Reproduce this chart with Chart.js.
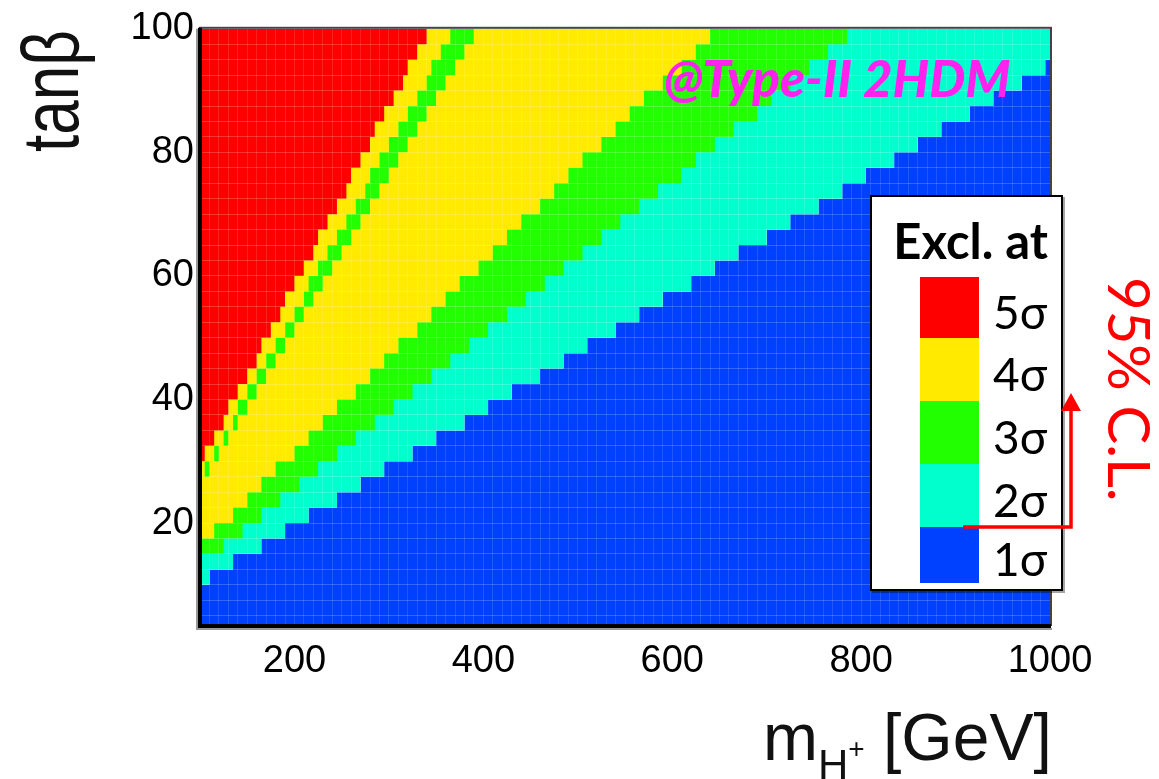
<!DOCTYPE html>
<html>
<head>
<meta charset="utf-8">
<script src="https://cdn.jsdelivr.net/npm/chart.js@4.4.1/dist/chart.umd.min.js"></script>
<style>
body { margin: 0; background: #fff; overflow: hidden; }
#wrap { position: relative; width: 1159px; height: 779px; overflow: hidden; }
#canvas { position: absolute; left: 0; top: 0; }
.txt { position: absolute; white-space: nowrap; line-height: 1; }
#legend { position: absolute; left: 870px; top: 195px; width: 193px; height: 396px; box-sizing: border-box;
  border: 2px solid #000; background: #fff; box-shadow: 2px 2px 0 rgba(0,0,0,0.35); }
</style>
</head>
<body>
<div id="wrap">
  <canvas id="canvas" width="1159" height="779"></canvas>
  <div class="txt" style="left:4px; top:152px; font:62px 'Liberation Sans'; color:#111; transform:rotate(-90deg) scaleY(1.3); transform-origin:0 0;">tanβ</div>
  <div class="txt" style="left:763px; top:699px; font:66px 'Liberation Sans'; color:#111;">m<span style="font-size:42px; position:relative; top:19px;">H</span><span style="font-size:28px; position:relative; top:-2px;">+</span> [GeV]</div>
  <div class="txt" style="left:664px; top:47px; font:italic 900 51px Lato, 'Open Sans', sans-serif; color:#ff22ee;">@Type-II 2HDM</div>
  <div id="legend"></div>
  <div class="txt" style="left:1165px; top:277px; font:58px Lato, 'Noto Sans', sans-serif; color:#ff0000; transform:rotate(90deg); transform-origin:0 0;">95% C.L.</div>
  <svg width="1159" height="779" style="position:absolute; left:0; top:0; pointer-events:none;">
    <polyline points="963,527 1071,527 1071,410" fill="none" stroke="#ff0000" stroke-width="3.5"/>
    <polygon points="1061,411 1081,411 1071,393" fill="#ff0000"/>
  </svg>
</div>
<script>
// tanb rows of the scan (top edge of each row), mass ticks, tanb ticks
const tanbRows = [100, 97.5, 95, 92.5, 90, 87.5, 85, 82.5, 80, 77.5, 75, 72.5, 70, 67.5, 65, 62.5,
  60, 57.5, 55, 52.5, 50, 47.5, 45, 42.5, 40, 37.5, 35, 32.5, 30, 27.5, 25, 22.5, 20, 17.5, 15,
  12.5, 10, 7.5, 5];
const massTicks = [200, 400, 600, 800, 1000];
const tanbTicks = [20, 40, 60, 80, 100];

// mass (GeV) where each row switches to the lower significance, row 0 = top
const edge12 = [null, null, 995, 970, 940, 915, 885, 860, 835, 805, 780, 755, 725, 700, 670, 645,
  620, 590, 565, 540, 510, 485, 460, 430, 405, 380, 350, 325, 295, 270, 245, 215, 190, 165, 135, 110];
const edge23 = [785, 765, 745, 725, 705, 690, 665, 645, 625, 610, 585, 565, 545, 525, 505, 485,
  465, 445, 425, 405, 385, 365, 345, 325, 305, 285, 265, 245, 225, 205, 185, 165, 145, 125];
const edge34 = [640, 625, 610, 590, 570, 555, 540, 525, 505, 490, 475, 460, 440, 425, 410, 395,
  375, 360, 345, 330, 310, 295, 280, 265, 245, 230, 215, 200, 180, 165, 150, 135, 115];
// the thin 3 sigma strip inside the 4 sigma band
const stripStart = [365, 355, 345, 340, 330, 320, 310, 300, 290, 280, 275, 265, 255, 245, 235, 225,
  215, 210, 200, 190, 180, 170, 160, 150, 140, 135, 125, 115, 105];
const stripEnd = [390, 380, 370, 360, 350, 340, 330, 320, 310, 300, 290, 280, 270, 260, 250, 240,
  230, 220, 210, 200, 190, 180, 170, 160, 150, 140, 130, 120, 110];
const edge45 = [340, 330, 320, 315, 305, 295, 285, 280, 270, 260, 255, 245, 235, 225, 220, 210,
  200, 190, 185, 175, 165, 160, 150, 140, 130, 125, 115, 105];

const sigmaLabels = ['5σ', '4σ', '3σ', '2σ', '1σ'];
const sigmaColors = ['#ff0000', '#ffea00', '#22ff00', '#00ffcc', '#0040ff'];

// turn row edges into a stepped boundary line
function stepPoints(edges) {
  let pts = [{ x: 100, y: tanbRows[edges.length] }];
  for (let k = edges.length - 1; k >= 0; k--) {
    if (edges[k] === null) continue;
    pts.push({ x: edges[k], y: tanbRows[k] });
  }
  pts.push({ x: 1000, y: pts[pts.length - 1].y });
  return pts;
}

function area(label, edges, color, fill, order) {
  return {
    label: label, data: stepPoints(edges), stepped: true, fill: fill, order: order,
    backgroundColor: color, borderColor: 'rgba(0,0,0,0)', borderWidth: 0, pointRadius: 0,
    xAxisID: 'x', yAxisID: 'y'
  };
}

let datasets = [
  area('5σ', edge45, sigmaColors[0], 'end', 0),
  area('4σ strip', stripStart, sigmaColors[1], 'end', 1),
  area('3σ strip', stripEnd, sigmaColors[2], 'end', 2),
  area('4σ', edge34, sigmaColors[1], 'end', 3),
  area('3σ', edge23, sigmaColors[2], 'end', 4),
  area('2σ', edge12, sigmaColors[3], 'end', 5),
  area('1σ', edge12, sigmaColors[4], 'start', 6)
];

// legend box
let legend = document.getElementById('legend');
let html = '<div class="txt" style="right:13px; top:14px; font:bold 49px Lato, sans-serif; color:#000;">Excl. at</div>';
let tops = [80, 141, 204, 267, 330];
let heights = [61, 63, 63, 63, 56];
for (let i = 0; i < sigmaLabels.length; i++) {
  html += '<div style="position:absolute; left:48px; top:' + tops[i] + 'px; width:59px; height:' + heights[i] +
    'px; background:' + sigmaColors[i] + ';"></div>';
  html += '<div class="txt" style="left:121px; top:' + (tops[i] + heights[i] / 2 - 24) +
    'px; font:46px Lato, \'Noto Sans\', sans-serif; color:#000;">' + sigmaLabels[i] + '</div>';
}
legend.innerHTML = html;

const frame = {
  id: 'frame',
  afterDraw(chart) {
    const c = chart.ctx;
    const a = chart.chartArea;
    c.save();
    c.strokeStyle = '#444';
    c.lineWidth = 2;
    c.strokeRect(a.left, a.top - 1, a.right - a.left + 1, a.bottom - a.top + 1);
    c.strokeStyle = '#999';
    c.lineWidth = 2;
    c.beginPath();
    c.moveTo(a.left - 3, a.top);
    c.lineTo(a.left - 3, a.bottom + 4);
    c.lineTo(a.right + 2, a.bottom + 4);
    c.stroke();
    c.strokeStyle = '#000';
    c.lineWidth = 4;
    c.beginPath();
    c.moveTo(a.left, a.top - 1);
    c.lineTo(a.left, a.bottom + 1);
    c.lineTo(a.right + 1, a.bottom + 1);
    c.stroke();
    c.restore();
  }
};

const tickFont = { family: 'Liberation Sans', size: 38 };

var ctx = document.getElementById('canvas').getContext('2d');
var myChart = new Chart(ctx, {
  type: 'line',
  data: { datasets: datasets },
  options: {
    responsive: false,
    animation: false,
    devicePixelRatio: 1,
    layout: { padding: { top: 25, right: 109, left: 0, bottom: 0 } },
    plugins: { legend: { display: false }, tooltip: { enabled: false } },
    scales: {
      x: {
        type: 'linear', position: 'bottom', min: 100, max: 1000,
        grid: { display: false, drawTicks: false }, border: { display: false },
        ticks: { font: tickFont, color: '#000', padding: 14, maxRotation: 0, callback: v => String(v) },
        afterBuildTicks: s => { s.ticks = massTicks.map(v => ({ value: v })); },
        afterFit: s => { s.height = 154; }
      },
      y: {
        type: 'linear', position: 'left', min: 3.5, max: 100,
        grid: { display: false, drawTicks: false }, border: { display: false },
        ticks: { font: tickFont, color: '#000', padding: 6, callback: v => String(v) },
        afterBuildTicks: s => { s.ticks = tanbTicks.map(v => ({ value: v })); },
        afterFit: s => { s.width = 200; }
      },
      xg: {
        type: 'linear', position: 'bottom', min: 100, max: 1000,
        ticks: { display: false, stepSize: 10 },
        grid: { color: 'rgba(255,255,255,0.13)', drawTicks: false, z: 1 }, border: { display: false },
        afterFit: s => { s.height = 0; }
      },
      yg: {
        type: 'linear', position: 'left', min: 3.5, max: 100,
        ticks: { display: false },
        grid: { color: 'rgba(255,255,255,0.2)', drawTicks: false, z: 1 }, border: { display: false },
        afterBuildTicks: s => { s.ticks = tanbRows.map(v => ({ value: v })); },
        afterFit: s => { s.width = 0; }
      }
    }
  },
  plugins: [frame]
});
</script>
</body>
</html>
